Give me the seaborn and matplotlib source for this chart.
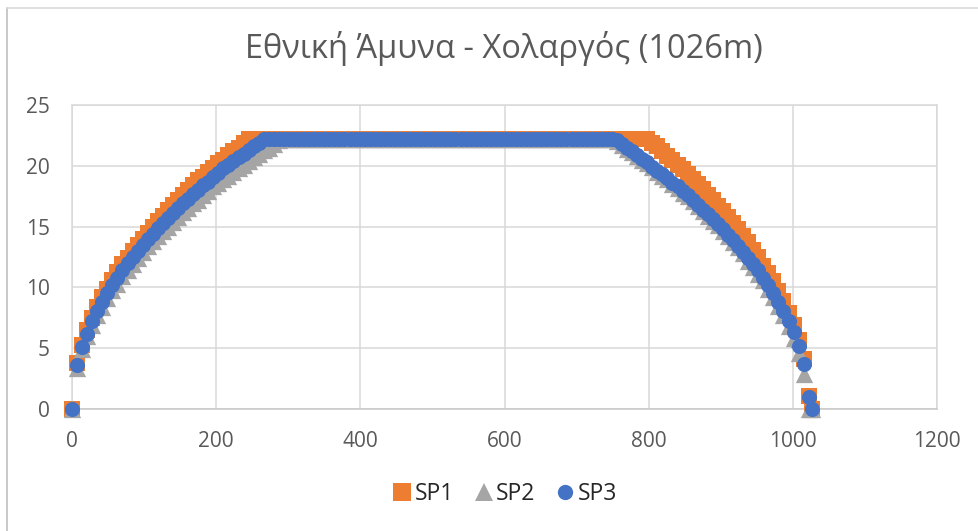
import matplotlib
matplotlib.use("Agg")
import matplotlib.pyplot as plt
import matplotlib.lines as mlines
import seaborn as sns
import pandas as pd

# Distance along the section (m), shared by all three speed profiles
distance = [
    0, 7, 14, 21, 28, 35, 42, 49, 56, 63, 70, 77, 84, 91, 98, 105, 112, 119, 126, 133,
    140, 147, 154, 161, 168, 175, 182, 189, 196, 203, 210, 217, 224, 231, 238, 245, 252, 259, 266, 273,
    280, 287, 294, 301, 308, 315, 322, 329, 336, 343, 350, 357, 364, 371, 378, 385, 392, 399, 406, 413,
    420, 427, 434, 441, 448, 455, 462, 469, 476, 483, 490, 497, 504, 511, 518, 525, 532, 539, 546, 553,
    560, 567, 574, 581, 588, 595, 602, 609, 616, 623, 630, 637, 644, 651, 658, 665, 672, 679, 686, 693,
    700, 707, 714, 721, 728, 735, 742, 749, 756, 763, 770, 777, 784, 791, 798, 805, 812, 819, 826, 833,
    840, 847, 854, 861, 868, 875, 882, 889, 896, 903, 910, 917, 924, 931, 938, 945, 952, 959, 966, 973,
    980, 987, 994, 1001, 1008, 1015, 1022, 1026,
]

# Speed profile SP1 (m/s)
sp1 = [
    0, 3.8, 5.3, 6.5, 7.5, 8.4, 9.2, 9.9, 10.6, 11.3, 11.9, 12.4, 13.0, 13.5, 14.0, 14.5, 15.0, 15.5, 15.9, 16.4,
    16.8, 17.2, 17.6, 18.0, 18.4, 18.8, 19.1, 19.5, 19.8, 20.2, 20.5, 20.9, 21.2, 21.5, 21.9, 22.2, 22.2, 22.2, 22.2, 22.2,
    22.2, 22.2, 22.2, 22.2, 22.2, 22.2, 22.2, 22.2, 22.2, 22.2, 22.2, 22.2, 22.2, 22.2, 22.2, 22.2, 22.2, 22.2, 22.2, 22.2,
    22.2, 22.2, 22.2, 22.2, 22.2, 22.2, 22.2, 22.2, 22.2, 22.2, 22.2, 22.2, 22.2, 22.2, 22.2, 22.2, 22.2, 22.2, 22.2, 22.2,
    22.2, 22.2, 22.2, 22.2, 22.2, 22.2, 22.2, 22.2, 22.2, 22.2, 22.2, 22.2, 22.2, 22.2, 22.2, 22.2, 22.2, 22.2, 22.2, 22.2,
    22.2, 22.2, 22.2, 22.2, 22.2, 22.2, 22.2, 22.2, 22.2, 22.2, 22.2, 22.2, 22.2, 22.2, 22.2, 21.9, 21.6, 21.2, 20.8, 20.5,
    20.1, 19.7, 19.3, 18.9, 18.5, 18.1, 17.6, 17.2, 16.7, 16.3, 15.8, 15.3, 14.8, 14.2, 13.7, 13.1, 12.5, 11.8, 11.2, 10.5,
    9.7, 8.9, 7.9, 6.9, 5.7, 4.1, 1.1, 0,
]

# Speed profile SP2 (m/s)
sp2 = [
    0, 3.4, 4.9, 6.0, 6.9, 7.7, 8.4, 9.1, 9.8, 10.3, 10.9, 11.4, 11.9, 12.4, 12.9, 13.4, 13.8, 14.2, 14.6, 15.0,
    15.4, 15.8, 16.2, 16.5, 16.9, 17.2, 17.6, 17.9, 18.3, 18.6, 18.9, 19.2, 19.5, 19.8, 20.1, 20.4, 20.7, 21.0, 21.3, 21.5,
    21.8, 22.1, 22.2, 22.2, 22.2, 22.2, 22.2, 22.2, 22.2, 22.2, 22.2, 22.2, 22.2, 22.2, 22.2, 22.2, 22.2, 22.2, 22.2, 22.2,
    22.2, 22.2, 22.2, 22.2, 22.2, 22.2, 22.2, 22.2, 22.2, 22.2, 22.2, 22.2, 22.2, 22.2, 22.2, 22.2, 22.2, 22.2, 22.2, 22.2,
    22.2, 22.2, 22.2, 22.2, 22.2, 22.2, 22.2, 22.2, 22.2, 22.2, 22.2, 22.2, 22.2, 22.2, 22.2, 22.2, 22.2, 22.2, 22.2, 22.2,
    22.2, 22.2, 22.2, 22.2, 22.2, 22.2, 22.2, 22.2, 22.0, 21.7, 21.4, 21.1, 20.8, 20.5, 20.2, 19.9, 19.5, 19.2, 18.9, 18.5,
    18.2, 17.8, 17.5, 17.1, 16.7, 16.3, 15.9, 15.5, 15.1, 14.6, 14.2, 13.7, 13.3, 12.8, 12.2, 11.7, 11.1, 10.6, 9.9, 9.2,
    8.5, 7.7, 6.8, 5.8, 4.6, 2.9, 0, 0,
]

# Speed profile SP3 (m/s)
sp3 = [
    0, 3.6, 5.1, 6.2, 7.2, 8.1, 8.8, 9.5, 10.2, 10.8, 11.4, 12.0, 12.5, 13.0, 13.5, 14.0, 14.4, 14.9, 15.3, 15.7,
    16.1, 16.5, 16.9, 17.3, 17.7, 18.0, 18.4, 18.7, 19.1, 19.4, 19.8, 20.1, 20.4, 20.7, 21.0, 21.3, 21.6, 21.9, 22.2, 22.2,
    22.2, 22.2, 22.2, 22.2, 22.2, 22.2, 22.2, 22.2, 22.2, 22.2, 22.2, 22.2, 22.2, 22.2, 22.2, 22.2, 22.2, 22.2, 22.2, 22.2,
    22.2, 22.2, 22.2, 22.2, 22.2, 22.2, 22.2, 22.2, 22.2, 22.2, 22.2, 22.2, 22.2, 22.2, 22.2, 22.2, 22.2, 22.2, 22.2, 22.2,
    22.2, 22.2, 22.2, 22.2, 22.2, 22.2, 22.2, 22.2, 22.2, 22.2, 22.2, 22.2, 22.2, 22.2, 22.2, 22.2, 22.2, 22.2, 22.2, 22.2,
    22.2, 22.2, 22.2, 22.2, 22.2, 22.2, 22.2, 22.2, 22.1, 21.8, 21.5, 21.2, 20.9, 20.6, 20.3, 19.9, 19.6, 19.3, 19.0, 18.6,
    18.3, 17.9, 17.6, 17.2, 16.8, 16.4, 16.0, 15.6, 15.2, 14.8, 14.3, 13.9, 13.4, 12.9, 12.4, 11.9, 11.4, 10.8, 10.2, 9.5,
    8.8, 8.1, 7.2, 6.3, 5.2, 3.7, 1.0, 0,
]

series_names = ["SP1", "SP2", "SP3"]
x_ticks = [0, 200, 400, 600, 800, 1000, 1200]
y_ticks = [0, 5, 10, 15, 20, 25]
title = "Εθνική Άμυνα - Χολαργός (1026m)"

colors = {"SP1": "#ED7D31", "SP2": "#A5A5A5", "SP3": "#4472C4"}
markers = {"SP1": "s", "SP2": "^", "SP3": "o"}
sizes = {"SP1": 140, "SP2": 155, "SP3": 118}

sns.set_theme(style="white")
plt.rcParams["font.family"] = ["Open Sans", "DejaVu Sans"]

W, H = 979, 531
fig = plt.figure(figsize=(W / 100, H / 100), dpi=100)
ax = fig.add_axes([72 / W, 1 - 409 / H, (937 - 72) / W, (409 - 105) / H])

frames = []
for name, speeds in zip(series_names, [sp1, sp2, sp3]):
    frames.append(pd.DataFrame({"distance": distance, "speed": speeds, "series": name}))
df = pd.concat(frames, ignore_index=True)

for name in series_names:
    sub = df[df["series"] == name]
    sns.scatterplot(
        data=sub, x="distance", y="speed", ax=ax,
        color=colors[name], marker=markers[name], s=sizes[name],
        linewidth=0, clip_on=False, zorder=3, legend=False,
    )

ax.set_xlim(0, 1200)
ax.set_ylim(0, 25)
ax.set_xticks(x_ticks)
ax.set_yticks(y_ticks)
ax.set_xlabel("")
ax.set_ylabel("")
ax.grid(True, color="#D9D9D9", linewidth=1.1)
ax.set_axisbelow(True)
for side, spine in ax.spines.items():
    spine.set_visible(True)
    spine.set_color("#D9D9D9")
    spine.set_linewidth(1.1)
ax.spines["bottom"].set_color("#C8C8C8")
ax.tick_params(axis="both", length=0, labelsize=15, labelcolor="#595959")
ax.tick_params(axis="y", pad=16)
ax.tick_params(axis="x", pad=16)

fig.text(504 / W, 1 - 48 / H, title, ha="center", va="center",
         fontsize=23.5, color="#595959")

handles = [
    mlines.Line2D([], [], linestyle="none", marker=markers[n], color=colors[n],
                  markersize=12.5 if n != "SP3" else 11, markeredgewidth=0, label=n)
    for n in series_names
]
fig.legend(handles=handles, loc="center", bbox_to_anchor=(504 / W, 1 - 494 / H),
           ncol=3, frameon=False, fontsize=16.5, handletextpad=0.05,
           columnspacing=0.8, handlelength=1.0, labelcolor="#262626")

# outer chart-area frame (left and top edges)
fig.add_artist(mlines.Line2D([7.5 / W, 7.5 / W], [0, 1 - 8 / H], transform=fig.transFigure,
                             color="#BFBFBF", linewidth=1.2))
fig.add_artist(mlines.Line2D([7.5 / W, 1], [1 - 8 / H, 1 - 8 / H], transform=fig.transFigure,
                             color="#D9D9D9", linewidth=1.2))

fig.savefig("out.png", dpi=100, facecolor="white")
